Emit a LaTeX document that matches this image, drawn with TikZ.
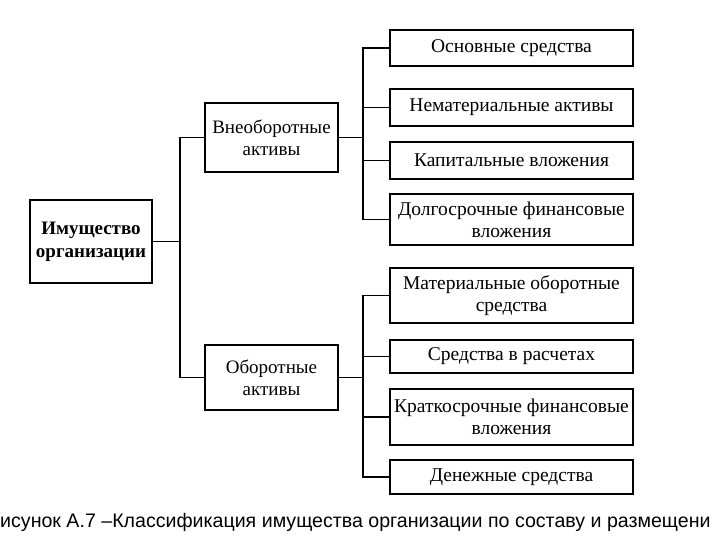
\documentclass[tikz,border=0pt]{standalone}
\usepackage{fontspec}
\setmainfont{Liberation Serif}
\newfontfamily\capfont{Liberation Sans}
\begin{document}
\begin{tikzpicture}[x=1pt,y=-1pt,
  bx/.style={draw,line width=1.3pt,align=center,inner sep=0pt,font=\fontsize{19.5}{22}\selectfont},
  ln/.style={line width=1.1pt}]
\useasboundingbox (0,0) rectangle (720,540);
\node[bx,minimum width=122,minimum height=83,font=\fontsize{19}{23}\selectfont\bfseries] (m) at (91,241.5) {Имущество\\организации};
\node[bx,minimum width=133,minimum height=69,font=\fontsize{19}{22}\selectfont] (v) at (271.5,137.5) {Внеоборотные\\активы};
\node[bx,minimum width=133,minimum height=65,font=\fontsize{19}{22}\selectfont] (o) at (271.5,377.5) {Оборотные\\активы};
\node[bx,minimum width=243,minimum height=36] (r1) at (511.5,48) {Основные средства};
\node[bx,minimum width=243,minimum height=37] (r2) at (511.5,107.5) {Нематериальные активы};
\node[bx,minimum width=243,minimum height=37] (r3) at (511.5,160.5) {Капитальные вложения};
\node[bx,minimum width=243,minimum height=51] (r4) at (511.5,219.5) {Долгосрочные финансовые\\вложения};
\node[bx,minimum width=243,minimum height=55] (r5) at (511.5,295.5) {Материальные оборотные\\средства};
\node[bx,minimum width=243,minimum height=33] (r6) at (511.5,356.5) {Средства в расчетах};
\node[bx,minimum width=243,minimum height=56] (r7) at (511.5,417) {Краткосрочные финансовые\\вложения};
\node[bx,minimum width=243,minimum height=34] (r8) at (511.5,477) {Денежные средства};
\coordinate (a) at (180,241.5);
\draw[ln] (m.east) -- (a);
\draw[ln] (v.west) -| (a) |- (o.west);
\coordinate (b) at (363,137.5);
\coordinate (c) at (363,377.5);
\draw[ln] (v.east) -- (b);
\draw[ln] (o.east) -- (c);
\draw[ln] (r1.west) -| (b) |- (r4.west);
\draw[ln] (b) |- (r2.west);
\draw[ln] (b) |- (r3.west);
\draw[ln] (r5.west) -| (c) |- (r8.west);
\draw[ln] (c) |- (r6.west);
\draw[ln] (c) |- (r7.west);
\node[anchor=west,inner sep=0pt,font=\capfont\fontsize{19.6}{24}\selectfont] (cap) at (0,522) {исунок А.7 –Классификация имущества организации по составу и размещени};
\end{tikzpicture}
\end{document}
